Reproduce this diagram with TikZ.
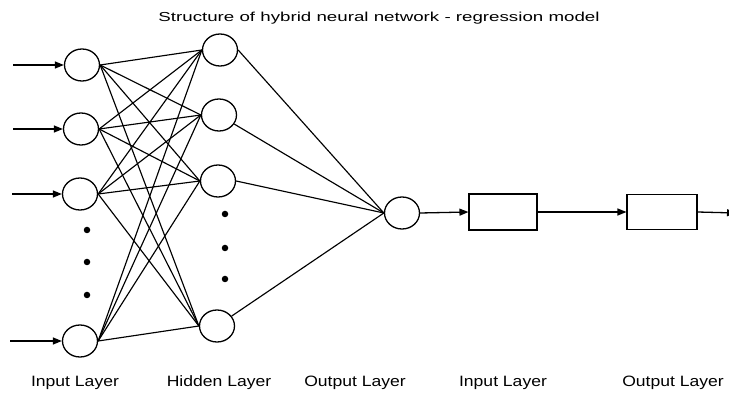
\documentclass[tikz,border=0pt]{standalone}
\usepackage{fontspec}
\setmainfont{Liberation Sans}
\usetikzlibrary{shapes.geometric,arrows.meta}
\begin{document}
\begin{tikzpicture}[x=1pt,y=-1pt,
  neuron/.style={draw,ellipse,minimum width=35pt,minimum height=32pt,inner sep=0pt,line width=1.3pt},
  block/.style={draw,rectangle,inner sep=0pt,line width=1.1pt},
  link/.style={line width=1.15pt},
  feed/.style={line width=1.3pt,-{Triangle[length=9pt,width=7pt]}},
  vdot/.style={fill,circle,inner sep=0pt,minimum size=6.5pt},
  caption/.style={anchor=base,inner sep=0pt,font=\fontsize{15}{18}\selectfont},
  heading/.style={anchor=base,inner sep=0pt,font=\fontsize{13}{16}\selectfont}]
\useasboundingbox (0,0) rectangle (729,398);
\clip (0,0) rectangle (729,398);

% title
\node[heading] (title) at (379,22) {\scalebox{1.44}[1]{Structure of hybrid neural network - regression model}};

% input layer
\node[neuron] (i1) at (82,65) {};
\node[neuron] (i2) at (81,129) {};
\node[neuron] (i3) at (80,194) {};
\node[neuron] (i4) at (80,341) {};
\node[vdot] (id1) at (87,230) {};
\node[vdot] (id2) at (87,262) {};
\node[vdot] (id3) at (87,295) {};

% hidden layer
\node[neuron] (h1) at (220,50) {};
\node[neuron] (h2) at (219,115) {};
\node[neuron] (h3) at (218,181) {};
\node[neuron] (h4) at (217,326) {};
\node[vdot] (hd1) at (225,214) {};
\node[vdot] (hd2) at (225,248) {};
\node[vdot] (hd3) at (225,279) {};

% output neuron and the regression stage
\node[neuron] (o) at (402,213) {};
\node[block,minimum width=68pt,minimum height=36pt] (r1) at (503,212) {};
\node[block,minimum width=70pt,minimum height=35pt] (r2) at (662,212) {};

% incoming signals
\coordinate (s1) at (13,65);
\coordinate (s2) at (13,129);
\coordinate (s3) at (12,194);
\coordinate (s4) at (10,341);
\foreach \k in {1,...,4} \draw[feed] (s\k) -- (i\k.west);

% full connections input -> hidden
\foreach \a in {1,...,4}
  \foreach \b in {1,...,4}
    \draw[link] (i\a.east) -- (h\b.west);

% hidden -> output
\draw[link] (h1.east) -- (o.west);
\draw[link] (h2) -- (o.west);
\draw[link] (h3.east) -- (o.west);
\draw[link] (h4) -- (o.west);

% output chain
\coordinate (tail) at (736,213);
\draw[feed] (o.east) -- (r1.west);
\draw[feed] (r1.east) -- (r2.west);
\draw[feed] (r2.east) -- (tail);

% layer captions
\node[caption] (c1) at (75,387) {\scalebox{1.17}[1]{Input Layer}};
\node[caption] (c2) at (219,387) {\scalebox{1.17}[1]{Hidden Layer}};
\node[caption] (c3) at (355,387) {\scalebox{1.17}[1]{Output Layer}};
\node[caption] (c4) at (503,387) {\scalebox{1.17}[1]{Input Layer}};
\node[caption] (c5) at (673,387) {\scalebox{1.17}[1]{Output Layer}};
\end{tikzpicture}
\end{document}
